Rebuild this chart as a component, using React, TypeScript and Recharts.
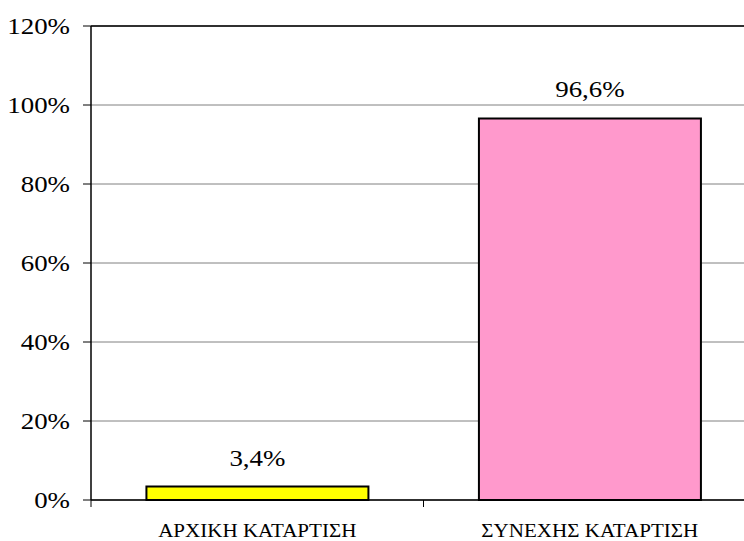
import { BarChart, Bar, XAxis, YAxis, CartesianGrid, Cell, LabelList, ReferenceLine } from 'recharts';

// categories and shares (%)
const categories = ['ΑΡΧΙΚΗ ΚΑΤΑΡΤΙΣΗ', 'ΣΥΝΕΧΗΣ ΚΑΤΑΡΤΙΣΗ'];
const shares = [3.4, 96.6];
const barColors = ['#FFFF00', '#FF99CC'];
const yTicks = [0, 20, 40, 60, 80, 100, 120];

const data = categories.map((name, i) => ({ name, value: shares[i] }));

const font = "'Liberation Serif', serif";
// the source picture is stretched sideways a little
const stretch = 1.17;

const pct = (v: number) => `${v}%`;
const pctComma = (v: number) => `${v.toFixed(1).replace('.', ',')}%`;

// category label plus tick marks on the category boundaries
const CategoryTick = (props: any) => {
  const { x, y, payload } = props;
  const half = payload?.offset ?? 0;
  return (
    <g>
      <line x1={x - half} x2={x - half} y1={y} y2={y + 7} stroke="#000" />
      <line x1={x + half} x2={x + half} y1={y} y2={y + 7} stroke="#000" />
      <text
        transform={`translate(${x},${y + 37}) scale(${stretch},1)`}
        textAnchor="middle"
        fill="#000"
        fontSize={18}
        fontFamily={font}
      >
        {payload.value}
      </text>
    </g>
  );
};

const PercentTick = (props: any) => {
  const { x, y, payload } = props;
  return (
    <text
      transform={`translate(${x},${y}) scale(${stretch},1)`}
      dy="0.355em"
      textAnchor="end"
      fill="#000"
      fontSize={23}
      fontFamily={font}
    >
      {pct(payload.value)}
    </text>
  );
};

const ValueLabel = (props: any) => {
  const { x, y, width, value } = props;
  return (
    <text
      transform={`translate(${x + width / 2},${y - 21}) scale(${stretch},1)`}
      textAnchor="middle"
      fill="#000"
      fontSize={23}
      fontFamily={font}
    >
      {pctComma(value)}
    </text>
  );
};

export default function App() {
  return (
    <div
      style={{
        position: 'fixed',
        left: 0,
        top: 0,
        width: 744,
        height: 541,
        overflow: 'hidden',
        background: '#fff',
      }}
    >
      <BarChart
        width={770}
        height={541}
        data={data}
        margin={{ top: 26, right: 14, left: 0, bottom: 0 }}
        barCategoryGap="16.67%"
      >
        <CartesianGrid vertical={false} stroke="#808080" strokeWidth={1} />
        <XAxis
          dataKey="name"
          height={41}
          tickLine={false}
          tickSize={0}
          tickMargin={0}
          axisLine={{ stroke: '#000', strokeWidth: 1.5 }}
          tick={<CategoryTick />}
          interval={0}
        />
        <YAxis
          domain={[0, 120]}
          ticks={yTicks}
          width={91}
          tickSize={8}
          tickMargin={13}
          axisLine={{ stroke: '#000', strokeWidth: 1.5 }}
          tickLine={{ stroke: '#000' }}
          tick={<PercentTick />}
        />
        <ReferenceLine y={120} stroke="#000" strokeWidth={1.5} />
        <Bar dataKey="value" stroke="#000" strokeWidth={2} isAnimationActive={false}>
          {data.map((d, i) => (
            <Cell key={d.name} fill={barColors[i]} />
          ))}
          <LabelList dataKey="value" content={<ValueLabel />} />
        </Bar>
      </BarChart>
    </div>
  );
}
